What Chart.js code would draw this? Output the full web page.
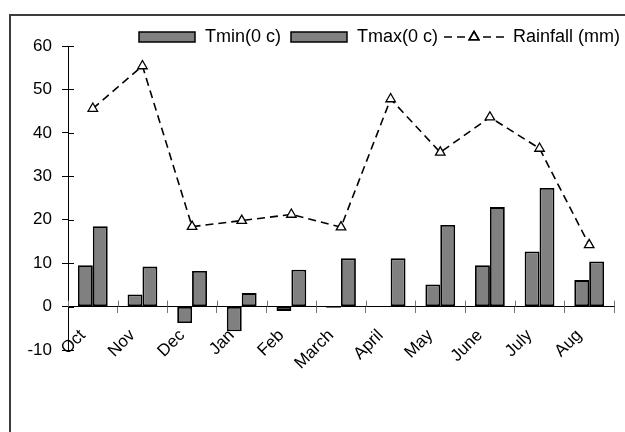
<!DOCTYPE html>
<html>
<head>
<meta charset="utf-8">
<script src="https://cdn.jsdelivr.net/npm/chart.js@4.4.0/dist/chart.umd.min.js"></script>
<style>
  html, body { margin: 0; padding: 0; background: #fff; overflow: hidden; }
  #marco { position: absolute; left: 9px; top: 14px; width: 700px; height: 500px;
           border-left: 2px solid #3c3c3c; border-top: 2px solid #3c3c3c; }
  #contenedor { position: absolute; left: 0; top: 0; width: 625px; height: 432px; }
</style>
</head>
<body>
<div id="marco"></div>
<div id="contenedor"><canvas id="grafico"></canvas></div>
<script>
// Datos
const meses = ['Oct', 'Nov', 'Dec', 'Jan', 'Feb', 'March', 'April', 'May', 'June', 'July', 'Aug'];
const tmin = [9.5, 2.8, -3.8, -5.7, -1.0, -0.3, 0, 5.1, 9.5, 12.7, 6.1];
const tmax = [18.5, 9.2, 8.2, 3.1, 8.5, 11.1, 11.1, 18.8, 22.9, 27.3, 10.4];
const lluvia = [45.6, 55.4, 18.4, 19.8, 21.2, 18.3, 47.8, 35.5, 43.6, 36.4, 14.2];
const etiquetas = ['Tmin(0 c)', 'Tmax(0 c)', 'Rainfall (mm)'];

const fuente = { family: 'Liberation Sans, Arial, sans-serif', size: 17 };
const fuenteLeyenda = 18;

// Marcas de eje que cruzan la línea (estilo Excel)
const marcasCruzadas = {
    id: 'marcasCruzadas',
    afterDraw(chart) {
        const ctx = chart.ctx;
        const x = chart.scales.x, y = chart.scales.y;
        ctx.save();
        ctx.lineWidth = 1;
        ctx.strokeStyle = '#000';
        y.ticks.forEach(t => {
            const py = Math.round(y.getPixelForValue(t.value)) + 0.5;
            ctx.beginPath();
            ctx.moveTo(y.right, py);
            ctx.lineTo(y.right + 6, py);
            ctx.stroke();
        });
        const y0 = y.getPixelForValue(0);
        ctx.strokeStyle = '#777';
        for (let i = 0; i <= meses.length; i++) {
            const px = Math.round(x.getPixelForValue(i - 0.5)) + 0.5;
            ctx.beginPath();
            ctx.moveTo(px, y0 - 6);
            ctx.lineTo(px, y0);
            ctx.stroke();
        }
        ctx.restore();
    }
};

// Leyenda dibujada a mano para poder mostrar línea + triángulo
const leyenda = {
    id: 'leyenda',
    afterDraw(chart) {
        const ctx = chart.ctx;
        const ds = chart.data.datasets;
        const yc = 37;
        let cx = 139;
        ctx.save();
        ctx.font = fuenteLeyenda + 'px ' + fuente.family;
        ctx.textBaseline = 'middle';
        ctx.fillStyle = '#000';
        ds.forEach((d) => {
            if (d.type === 'line') {
                ctx.strokeStyle = d.borderColor;
                ctx.lineWidth = d.borderWidth;
                ctx.setLineDash(d.borderDash);
                ctx.beginPath();
                ctx.moveTo(cx, yc);
                ctx.lineTo(cx + 60, yc);
                ctx.stroke();
                ctx.setLineDash([]);
                Chart.helpers.drawPoint(ctx, {
                    pointStyle: 'triangle', radius: d.pointRadius,
                    borderWidth: d.pointBorderWidth
                }, cx + 30, yc);
                ctx.fillStyle = '#fff';
                ctx.fill();
                ctx.stroke();
                ctx.fillStyle = '#000';
                cx += 69;
            } else {
                ctx.fillStyle = d.backgroundColor;
                ctx.fillRect(cx, yc - 5, 56, 10);
                ctx.strokeStyle = d.borderColor;
                ctx.lineWidth = 1.5;
                ctx.strokeRect(cx, yc - 5, 56, 10);
                ctx.fillStyle = '#000';
                cx += 66;
            }
            ctx.fillText(d.label, cx, yc);
            cx += ctx.measureText(d.label).width + (d === ds[1] ? 6 : 10);
        });
        ctx.restore();
    }
};

const ctxG = document.getElementById('grafico').getContext('2d');
new Chart(ctxG, {
    type: 'bar',
    data: {
        labels: meses,
        datasets: [{
            label: etiquetas[0],
            data: tmin,
            backgroundColor: '#808080',
            borderColor: '#000',
            borderWidth: 1.8,
            borderSkipped: false,
            categoryPercentage: 0.6,
            barPercentage: 1,
            order: 1
        }, {
            label: etiquetas[1],
            data: tmax,
            backgroundColor: '#808080',
            borderColor: '#000',
            borderWidth: 1.8,
            borderSkipped: false,
            categoryPercentage: 0.6,
            barPercentage: 1,
            order: 1
        }, {
            type: 'line',
            label: etiquetas[2],
            data: lluvia,
            borderColor: '#000',
            borderWidth: 1.6,
            borderDash: [8, 5],
            tension: 0,
            pointStyle: 'triangle',
            pointRadius: 5.5,
            pointBorderWidth: 1.3,
            pointBackgroundColor: '#fff',
            pointBorderColor: '#000',
            order: 0
        }]
    },
    options: {
        responsive: true,
        maintainAspectRatio: false,
        animation: false,
        layout: { padding: { left: 20, right: 11, top: 46, bottom: 82 } },
        plugins: {
            legend: { display: false },
            tooltip: { enabled: false }
        },
        scales: {
            x: {
                position: { y: 0 },
                grid: { offset: true, drawOnChartArea: false, tickLength: 6, color: '#777' },
                border: { color: '#000', width: 1 },
                ticks: {
                    color: '#000', font: fuente,
                    minRotation: 45, maxRotation: 45, padding: 13, labelOffset: -10
                }
            },
            y: {
                min: -10,
                max: 60,
                afterFit(scale) { scale.width = 48; },
                grid: { drawOnChartArea: false, tickLength: 6, color: '#000' },
                border: { color: '#000', width: 1 },
                ticks: { stepSize: 10, color: '#000', font: fuente, padding: 10 }
            }
        }
    },
    plugins: [marcasCruzadas, leyenda]
});
</script>
</body>
</html>
